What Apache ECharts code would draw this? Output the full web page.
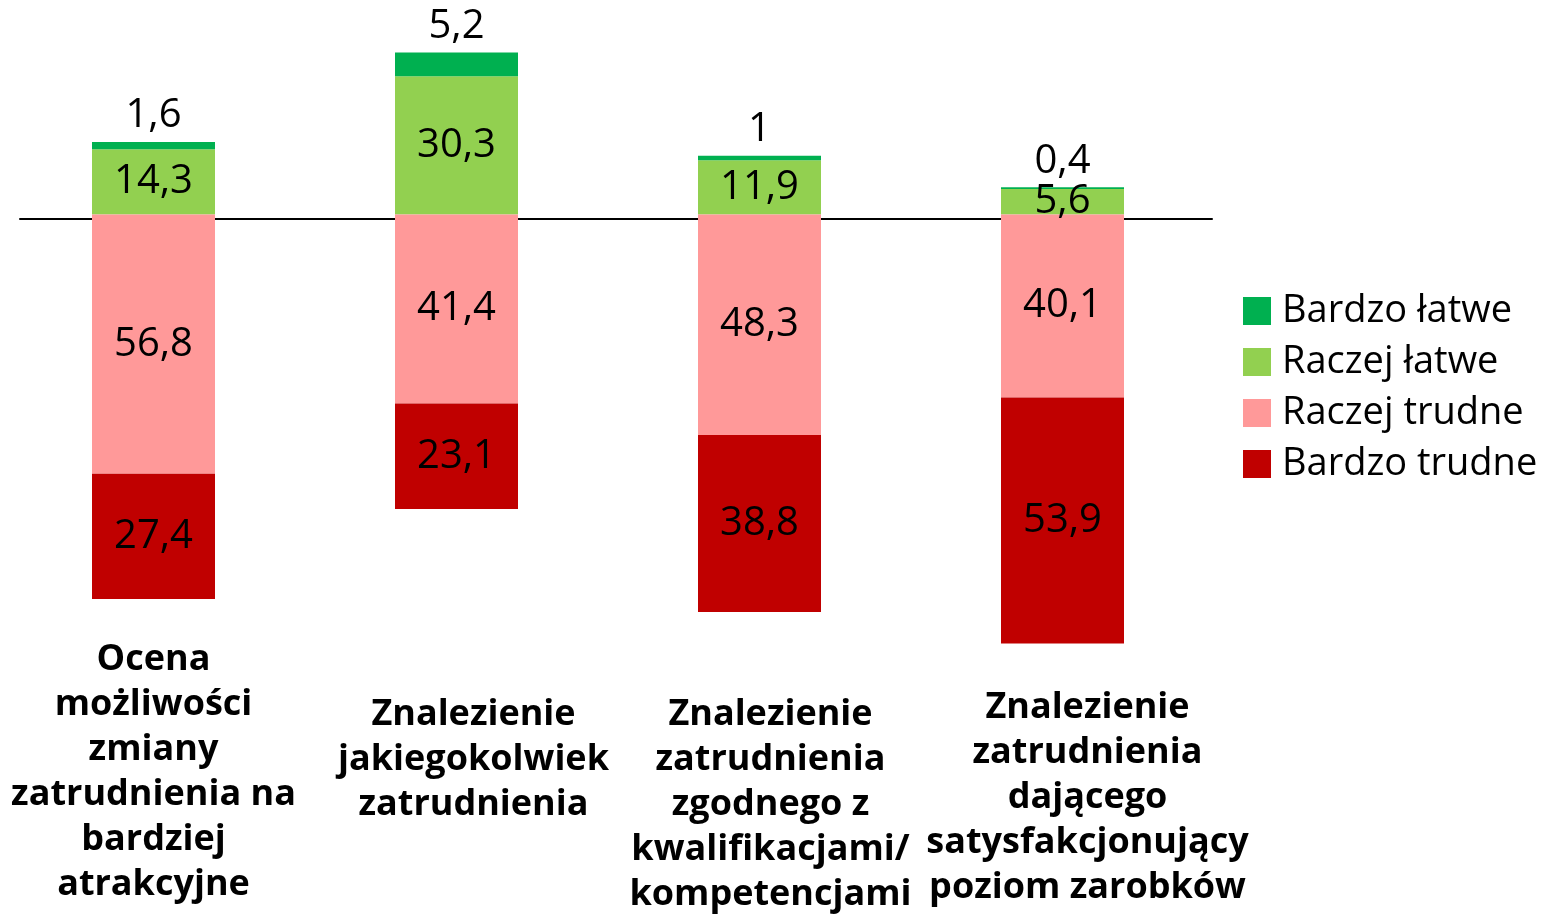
<!DOCTYPE html>
<html>
<head>
<meta charset="utf-8">
<script src="https://cdn.jsdelivr.net/npm/echarts@6/dist/echarts.min.js"></script>
<style>
  html, body { margin: 0; padding: 0; background: #fff; }
  #chart { width: 1541px; height: 917px; }
</style>
</head>
<body>
<div id="chart"></div>
<script>
// categories (bottom labels)
var categories = [
    'Ocena\nmożliwości\nzmiany\nzatrudnienia na\nbardziej\natrakcyjne',
    'Znalezienie\njakiegokolwiek\nzatrudnienia',
    'Znalezienie\nzatrudnienia\nzgodnego z\nkwalifikacjami/\nkompetencjami',
    'Znalezienie\nzatrudnienia\ndającego\nsatysfakcjonujący\npoziom zarobków'
];

// values in %
var bardzoLatwe = [1.6, 5.2, 1, 0.4];
var raczejLatwe = [14.3, 30.3, 11.9, 5.6];
var raczejTrudne = [56.8, 41.4, 48.3, 40.1];
var bardzoTrudne = [27.4, 23.1, 38.8, 53.9];

var mychart = echarts.init(document.getElementById('chart'));
window.onresize = mychart.resize;

function neg(arr) {
    return arr.map(function (v) { return -v; });
}

function fmt(p) {
    return String(Math.abs(p.value)).replace('.', ',');
}

var numFont = {
    fontFamily: 'Open Sans',
    fontSize: 40,
    color: '#000'
};

// label shift per category (top, left padding)
var labelPad = [[0, 0, 0, 0], [55, 0, 0, 34], [55, 0, 0, 22], [48, 0, 0, 50]];

option = {
    backgroundColor: '#fff',
    animation: false,
    legend: {
        orient: 'vertical',
        left: 1243,
        top: 292,
        padding: 0,
        itemWidth: 28,
        itemHeight: 28,
        itemGap: 13,
        icon: 'rect',
        data: ['Bardzo łatwe', 'Raczej łatwe', 'Raczej trudne', 'Bardzo trudne'],
        textStyle: {
            fontFamily: 'Open Sans',
            fontSize: 38,
            color: '#000',
            padding: [0, 0, 0, 6]
        }
    },
    grid: [
        { left: 2, width: 1212, top: 32, height: 652 },
        { left: 20, width: 1192, top: 32, height: 652 }
    ],
    xAxis: [
        {
            type: 'category',
            data: categories,
            axisLine: { show: false },
            axisTick: { show: false },
            axisLabel: { show: false }
        },
        {
            type: 'category',
            position: 'bottom',
            data: categories.map(function (c, i) {
                return { value: c, textStyle: { padding: labelPad[i] } };
            }),
            axisLine: { show: false, onZero: false },
            axisTick: { show: false },
            axisLabel: {
                interval: 0,
                margin: -34,
                verticalAlign: 'top',
                fontFamily: 'Open Sans',
                fontWeight: 'bold',
                fontSize: 36,
                lineHeight: 45,
                color: '#000'
            }
        },
        {
            // zero line
            type: 'category',
            gridIndex: 1,
            data: categories,
            axisLine: { onZero: true, lineStyle: { color: '#000', width: 2 } },
            axisTick: { show: false },
            axisLabel: { show: false }
        }
    ],
    yAxis: [
        { type: 'value', min: -100, max: 40, show: false },
        { type: 'value', gridIndex: 1, min: -100, max: 40, show: false }
    ],
    series: [
        {
            name: 'Raczej łatwe',
            type: 'bar',
            stack: 'all',
            barWidth: 123,
            data: raczejLatwe,
            itemStyle: { color: '#92D050' },
            label: Object.assign({ show: true, position: 'inside', formatter: fmt }, numFont)
        },
        {
            name: 'Bardzo łatwe',
            type: 'bar',
            stack: 'all',
            data: bardzoLatwe,
            itemStyle: { color: '#00B050' },
            label: Object.assign({ show: true, position: 'top', distance: 6, formatter: fmt }, numFont)
        },
        {
            name: 'Raczej trudne',
            type: 'bar',
            stack: 'all',
            data: neg(raczejTrudne),
            itemStyle: { color: '#FF9999' },
            label: Object.assign({ show: true, position: 'inside', formatter: fmt }, numFont)
        },
        {
            name: 'Bardzo trudne',
            type: 'bar',
            stack: 'all',
            data: neg(bardzoTrudne),
            itemStyle: { color: '#C00000' },
            label: Object.assign({ show: true, position: 'inside', formatter: fmt }, numFont)
        }
    ]
};

mychart.setOption(option, true);
</script>
</body>
</html>
